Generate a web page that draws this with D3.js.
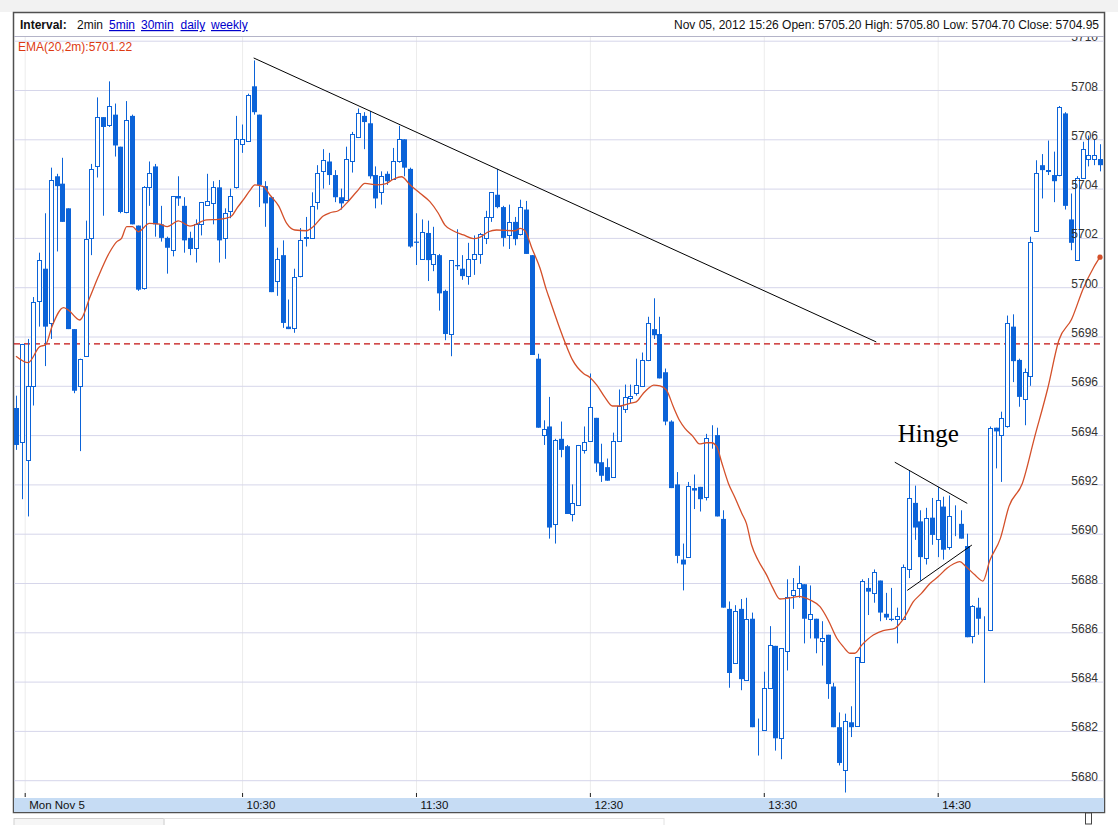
<!DOCTYPE html>
<html>
<head>
<meta charset="utf-8">
<script src="https://cdn.jsdelivr.net/npm/d3@7"></script>
<style>
  body { margin: 0; background: #fff; }
  svg { display: block; font-family: "Liberation Sans", Arial, sans-serif; }
</style>
</head>
<body>
<svg id="chart" width="1118" height="825"></svg>
<script>
// 2-minute bars, Mon Nov 5 2012, 09:12 .. 15:26
const startTime = new Date(2012, 10, 5, 9, 12);
const barMinutes = 2;

const opens = [
  5695.1, 5693.7, 5693.0, 5696.0, 5699.45, 5700.75, 5698.55, 5704.5, 5704.2, 5703.2,
  5698.3, 5696.0, 5697.2, 5702.0, 5704.9, 5706.9, 5706.6, 5707.0, 5705.7, 5703.05,
  5706.95, 5702.5, 5699.95, 5704.05, 5704.9, 5702.55, 5702.0, 5701.5, 5703.7, 5703.3,
  5702.0, 5701.6, 5702.55, 5703.35, 5703.4, 5704.05, 5702.0, 5703.1, 5704.05, 5705.8,
  5705.95, 5708.15, 5707.0, 5704.1, 5703.65, 5700.25, 5701.3, 5698.4, 5698.35, 5700.45,
  5702.0, 5702.0, 5703.45, 5704.7, 5705.1, 5704.55, 5703.65, 5703.55, 5705.1, 5706.1,
  5706.95, 5706.65, 5704.55, 5703.85, 5704.6, 5704.4, 5705.1, 5706.0, 5704.8, 5701.85,
  5701.15, 5702.2, 5700.95, 5701.3, 5699.85, 5698.1, 5700.9, 5700.75, 5700.45, 5701.15,
  5701.35, 5702.0, 5702.85, 5703.75, 5703.25, 5702.1, 5702.65, 5702.15, 5703.15, 5701.3,
  5697.1, 5694.0, 5694.35, 5690.4, 5693.85, 5693.55, 5690.8, 5691.15, 5693.4, 5693.75,
  5694.7, 5692.9, 5692.7, 5692.3, 5693.75, 5695.05, 5695.5, 5695.7, 5696.0, 5697.05,
  5698.3, 5698.1, 5696.55, 5694.55, 5692.0, 5688.95, 5689.05, 5691.85, 5691.9, 5691.5,
  5694.0, 5694.0, 5690.6, 5686.95, 5684.75, 5686.95, 5684.05, 5686.55, 5682.3, 5682.05,
  5683.75, 5685.45, 5681.7, 5685.25, 5687.5, 5687.8, 5687.95, 5686.55, 5686.55, 5685.65,
  5685.9, 5683.8, 5682.15, 5680.4, 5682.35, 5682.2, 5684.8, 5687.8, 5687.6, 5688.1,
  5686.75, 5686.55, 5686.55, 5686.55, 5688.55, 5691.25, 5690.5, 5689.0, 5690.65, 5689.8,
  5691.1, 5689.45, 5690.45, 5690.4, 5689.5, 5685.85, 5687.0, 5686.15, 5686.1, 5694.3,
  5694.0, 5694.35, 5698.4, 5697.05, 5695.45, 5696.4, 5702.3, 5704.95, 5704.7, 5704.55,
  5704.55, 5707.05, 5702.75, 5701.1, 5704.45, 5705.2, 5705.2, 5705.2
];
const highs = [
  5695.6, 5697.7, 5697.9, 5699.6, 5701.4, 5703.0, 5704.85, 5704.6, 5705.25, 5703.2,
  5698.3, 5697.1, 5702.7, 5705.0, 5707.7, 5706.9, 5708.35, 5707.45, 5705.7, 5707.55,
  5707.0, 5702.5, 5704.1, 5705.1, 5705.0, 5703.3, 5702.05, 5703.7, 5704.5, 5703.65,
  5702.25, 5702.75, 5703.45, 5704.6, 5704.3, 5704.35, 5703.2, 5704.0, 5706.95, 5706.6,
  5707.85, 5709.2, 5707.0, 5704.3, 5703.7, 5701.6, 5701.9, 5699.5, 5700.75, 5702.4,
  5702.85, 5703.85, 5704.95, 5705.6, 5705.45, 5704.75, 5704.0, 5705.7, 5706.3, 5707.25,
  5707.1, 5707.15, 5704.9, 5704.7, 5704.7, 5705.65, 5706.55, 5706.0, 5704.85, 5703.0,
  5702.75, 5702.7, 5702.45, 5701.35, 5699.9, 5701.1, 5702.35, 5701.3, 5701.8, 5702.1,
  5702.2, 5703.1, 5703.85, 5704.8, 5703.3, 5703.35, 5702.85, 5703.55, 5703.5, 5701.3,
  5697.3, 5694.6, 5695.55, 5693.85, 5694.55, 5693.6, 5692.0, 5693.6, 5694.35, 5696.5,
  5694.7, 5693.65, 5693.05, 5694.1, 5695.85, 5696.05, 5696.05, 5697.1, 5697.35, 5698.8,
  5699.55, 5698.8, 5696.7, 5694.6, 5692.5, 5689.6, 5692.1, 5692.4, 5691.9, 5694.05,
  5694.4, 5694.3, 5690.95, 5687.25, 5687.1, 5687.35, 5687.4, 5686.8, 5682.5, 5684.4,
  5686.25, 5685.45, 5685.35, 5688.15, 5688.2, 5688.7, 5687.95, 5687.9, 5686.55, 5686.45,
  5685.9, 5683.95, 5682.75, 5682.7, 5683.0, 5685.0, 5688.15, 5688.2, 5688.55, 5688.1,
  5687.6, 5687.8, 5687.0, 5688.75, 5692.55, 5691.95, 5690.95, 5691.05, 5691.45, 5691.9,
  5691.5, 5691.55, 5691.15, 5690.95, 5690.0, 5687.1, 5687.4, 5686.65, 5694.35, 5694.3,
  5694.95, 5698.85, 5698.9, 5697.1, 5696.7, 5702.05, 5705.15, 5705.4, 5705.95, 5705.5,
  5707.35, 5707.1, 5703.8, 5704.5, 5705.9, 5706.15, 5706.0, 5705.8
];
const lows = [
  5693.4, 5691.4, 5690.7, 5695.2, 5698.4, 5696.8, 5697.9, 5701.45, 5702.65, 5698.3,
  5695.7, 5693.35, 5697.2, 5701.3, 5704.45, 5702.9, 5706.5, 5705.3, 5703.0, 5703.0,
  5702.55, 5699.85, 5699.9, 5703.3, 5702.05, 5701.85, 5700.55, 5701.25, 5703.3, 5701.4,
  5701.3, 5701.0, 5702.1, 5703.3, 5702.55, 5701.0, 5701.15, 5702.8, 5704.0, 5705.45,
  5705.9, 5707.0, 5703.25, 5702.45, 5699.8, 5699.65, 5698.35, 5698.3, 5698.15, 5700.4,
  5701.65, 5702.0, 5703.15, 5704.0, 5704.15, 5703.45, 5703.15, 5703.5, 5704.65, 5706.05,
  5705.6, 5704.4, 5703.2, 5703.35, 5704.15, 5704.35, 5705.05, 5704.5, 5701.6, 5700.9,
  5701.15, 5700.25, 5700.65, 5699.05, 5697.85, 5697.2, 5700.7, 5700.3, 5700.1, 5700.5,
  5700.95, 5701.75, 5702.65, 5703.2, 5701.65, 5701.55, 5701.7, 5702.1, 5701.35, 5697.25,
  5694.3, 5693.6, 5689.8, 5689.6, 5693.1, 5690.8, 5690.5, 5691.15, 5693.25, 5693.75,
  5692.5, 5692.1, 5692.15, 5692.3, 5693.75, 5694.9, 5695.3, 5695.6, 5695.95, 5697.0,
  5697.9, 5696.3, 5694.4, 5691.85, 5688.8, 5687.7, 5689.05, 5691.0, 5690.9, 5691.35,
  5693.45, 5690.7, 5687.0, 5683.75, 5684.75, 5683.65, 5684.05, 5682.15, 5681.0, 5682.05,
  5683.75, 5681.2, 5680.85, 5684.45, 5686.95, 5687.4, 5685.55, 5685.75, 5685.15, 5684.65,
  5683.3, 5682.15, 5680.6, 5679.5, 5681.75, 5682.2, 5684.8, 5686.7, 5687.2, 5686.45,
  5686.5, 5686.45, 5685.55, 5686.5, 5688.2, 5689.75, 5688.1, 5688.75, 5689.55, 5689.05,
  5688.95, 5689.35, 5689.9, 5689.8, 5685.8, 5685.55, 5685.9, 5683.95, 5686.05, 5692.65,
  5692.1, 5694.3, 5696.15, 5695.15, 5694.4, 5696.0, 5702.3, 5703.6, 5704.55, 5703.45,
  5704.5, 5703.15, 5701.5, 5701.1, 5704.4, 5704.9, 5704.95, 5704.7
];
const closes = [
  5693.6, 5697.7, 5696.0, 5699.4, 5701.1, 5698.4, 5704.35, 5704.1, 5702.65, 5698.3,
  5695.8, 5697.1, 5701.95, 5704.8, 5706.9, 5706.5, 5707.35, 5705.75, 5703.05, 5706.8,
  5702.55, 5699.9, 5704.05, 5704.65, 5702.55, 5702.0, 5701.6, 5703.7, 5703.6, 5701.9,
  5701.55, 5702.55, 5703.45, 5703.5, 5704.05, 5701.9, 5703.0, 5703.7, 5706.0, 5706.0,
  5707.8, 5707.1, 5704.15, 5703.4, 5699.8, 5701.15, 5698.55, 5698.3, 5700.4, 5701.9,
  5702.05, 5703.3, 5704.65, 5705.15, 5704.55, 5703.65, 5703.4, 5705.2, 5706.2, 5707.05,
  5706.7, 5704.5, 5703.6, 5704.5, 5704.3, 5705.1, 5706.0, 5704.85, 5701.65, 5701.8,
  5702.25, 5701.1, 5701.35, 5699.75, 5698.1, 5701.1, 5700.85, 5700.45, 5701.15, 5701.35,
  5702.15, 5702.85, 5703.85, 5703.25, 5702.0, 5702.65, 5701.95, 5703.25, 5701.35, 5697.25,
  5694.3, 5694.25, 5690.25, 5693.8, 5693.4, 5690.8, 5691.25, 5693.6, 5693.7, 5695.15,
  5692.85, 5692.35, 5692.15, 5693.75, 5695.2, 5695.55, 5695.6, 5696.05, 5697.05, 5698.55,
  5698.05, 5696.3, 5694.55, 5691.85, 5689.1, 5688.75, 5691.95, 5691.75, 5691.4, 5693.9,
  5694.0, 5690.7, 5687.0, 5684.35, 5686.85, 5684.1, 5686.55, 5682.15, 5682.3, 5683.75,
  5685.5, 5681.7, 5685.35, 5687.45, 5687.7, 5688.0, 5686.55, 5686.75, 5685.75, 5685.75,
  5683.9, 5682.15, 5680.7, 5682.4, 5682.15, 5685.0, 5688.1, 5687.65, 5688.45, 5686.8,
  5686.6, 5686.5, 5686.65, 5688.65, 5691.45, 5690.25, 5689.05, 5690.65, 5689.95, 5691.35,
  5689.35, 5690.7, 5690.45, 5689.8, 5685.8, 5687.05, 5686.55, 5686.15, 5694.3, 5694.15,
  5694.7, 5698.55, 5697.0, 5695.55, 5696.55, 5701.85, 5704.65, 5704.75, 5704.75, 5704.3,
  5707.3, 5703.3, 5701.8, 5704.45, 5705.6, 5705.35, 5705.35, 5704.95
];

// EMA(20): bar position -> value
const emaBar = [
  0, 2.1, 4.1, 5.1, 6.2, 8.2, 9.0, 11.0, 12.8, 14.2, 16.2, 17.4, 18.2, 19.1, 20.1, 21.1,
  23.0, 24.8, 26.1, 28.0, 30.0, 32.9, 34.9, 36.1, 37.2, 38.1, 39.2, 40.4, 41.2, 42.7,
  43.8, 45.3, 46.7, 48.1, 50.1, 51.3, 53.0, 54.2, 55.6, 57.0, 58.8, 60.2, 62.2, 63.7,
  65.1, 66.5, 68.0, 69.7, 71.4, 72.8, 74.0, 75.4, 77.2, 78.9, 80.0, 81.5, 82.9, 86.1,
  87.0, 87.8, 89.0, 90.4, 91.5, 92.1, 93.5, 95.0, 96.0, 97.9, 99.0, 100.2, 101.6, 102.9,
  104.2, 105.9, 107.0, 108.2, 109.1, 110.0, 111.1, 112.2, 113.4, 114.5, 115.4, 116.8,
  117.9, 119.1, 120.0, 120.9, 121.7, 122.9, 124.0, 125.2, 126.0, 126.9, 128.0, 129.5,
  130.6, 131.8, 132.9, 134.1, 135.0, 137.0, 138.7, 140.1, 141.6, 142.7, 143.9, 144.7,
  145.9, 147.9, 149.6, 151.6, 152.5, 153.4, 154.8, 156.2, 157.7, 159.1, 160.6, 161.7,
  162.8, 163.9, 165.4, 166.8, 168.0, 169.8, 171.3, 173.6, 175.7, 178.0, 179.9, 182.1,
  184.1, 185.9, 187
];
const emaVal = [
  5697.2, 5696.94, 5697.59, 5697.66, 5698.4, 5699.17, 5699.08, 5698.67, 5699.62, 5700.43,
  5701.44, 5701.85, 5701.98, 5702.46, 5702.46, 5702.25, 5702.59, 5702.56, 5702.46, 5702.69,
  5702.48, 5702.73, 5702.75, 5702.79, 5702.89, 5703.2, 5703.54, 5703.94, 5704.15, 5704.08,
  5703.74, 5703.3, 5702.59, 5702.32, 5702.29, 5702.46, 5702.89, 5703.02, 5703.1, 5703.4,
  5703.88, 5704.21, 5704.15, 5704.19, 5704.38, 5704.48, 5704.15, 5703.81, 5703.47, 5703.02,
  5702.52, 5702.29, 5702.12, 5701.97, 5702.02, 5702.25, 5702.32, 5702.29, 5702.39, 5702.29,
  5701.58, 5700.77, 5699.89, 5699.48, 5698.53, 5697.59, 5697.05, 5696.5, 5696.34, 5696.03,
  5695.53, 5695.18, 5695.18, 5695.29, 5695.35, 5695.69, 5695.9, 5696.03, 5696.0, 5695.83,
  5695.15, 5694.58, 5694.27, 5693.94, 5693.64, 5693.69, 5693.69, 5693.53, 5692.92, 5692.04,
  5691.48, 5690.83, 5690.42, 5689.54, 5688.93, 5688.32, 5687.78, 5687.35, 5687.38, 5687.42,
  5687.46, 5687.31, 5687.04, 5686.5, 5685.76, 5685.42, 5685.15, 5685.15, 5685.48, 5685.89,
  5686.07, 5686.16, 5686.36, 5686.66, 5687.24, 5687.58, 5687.99, 5688.26, 5688.6, 5688.77,
  5688.87, 5688.66, 5688.33, 5688.08, 5688.92, 5689.8, 5691.11, 5692.04, 5693.9, 5695.91,
  5697.85, 5698.7, 5699.94, 5700.8, 5701.22
];

const yTicks = d3.range(5680, 5711, 2);
const xTickTimes = [[9, 15], [10, 30], [11, 30], [12, 30], [13, 30], [14, 30]];
const xTickLabels = ["Mon Nov 5", "10:30", "11:30", "12:30", "13:30", "14:30"];
const levelLine = 5697.7;

// hand-drawn annotation lines, [bar, price]
const trendLines = [
  [[41, 5709.3], [148.4, 5697.78]],
  [[151.6, 5692.9], [164.1, 5691.23]],
  [[153.75, 5687.7], [164.9, 5689.54]]
];
const hingeNote = { bar: 152.1, price: 5693.73, text: "Hinge" };

const blue = "#0b63d8";
const emaColor = "#d4502a";

const barTime = b => new Date(startTime.getTime() + b * barMinutes * 60000);
const bars = opens.map((o, i) => ({
  t: barTime(i), o, h: highs[i], l: lows[i], c: closes[i]
}));

const plot = { left: 14, right: 1104, top: 37, bottom: 797 };

const svg = d3.select("#chart");

const x = d3.scaleTime()
  .domain([barTime(0), barTime(bars.length - 1)])
  .range([16, 1100]);

const y = d3.scaleLinear()
  .domain([5680, 5710])
  .range([780.2, 40.7]);

// page chrome
svg.append("rect").attr("x", 0).attr("y", 0).attr("width", 1118).attr("height", 12).attr("fill", "#f2f2f2");
svg.append("rect").attr("x", 13.5).attr("y", 12.5).attr("width", 1091).attr("height", 800)
  .attr("fill", "#fff").attr("stroke", "#505050").attr("stroke-width", 1.5);

svg.append("line")
  .attr("x1", plot.left).attr("x2", plot.right).attr("y1", 36.5).attr("y2", 36.5)
  .attr("stroke", "#b4b4c8");

// header
const header = svg.append("g").attr("font-size", "12px");
header.append("text").attr("x", 20).attr("y", 29).attr("font-weight", "bold").attr("fill", "#111").text("Interval:");
header.append("text").attr("x", 77).attr("y", 29).attr("fill", "#111").text("2min");
[["5min", 109], ["30min", 141], ["daily", 180.5], ["weekly", 211]].forEach(([t, px]) => {
  header.append("text").attr("x", px).attr("y", 29).attr("fill", "#0000cc")
    .attr("text-decoration", "underline").text(t);
});
header.append("text").attr("x", 1099).attr("y", 29).attr("text-anchor", "end").attr("fill", "#111")
  .text("Nov 05, 2012 15:26 Open: 5705.20 High: 5705.80 Low: 5704.70 Close: 5704.95");

// clipped plot area
svg.append("defs").append("clipPath").attr("id", "plotClip")
  .append("rect")
  .attr("x", plot.left).attr("y", plot.top)
  .attr("width", plot.right - plot.left).attr("height", plot.bottom - plot.top);

const g = svg.append("g").attr("clip-path", "url(#plotClip)");

const tickDates = xTickTimes.map(([hh, mm]) => new Date(2012, 10, 5, hh, mm));

// vertical grid
g.append("g")
  .attr("transform", `translate(0,${plot.bottom})`)
  .call(d3.axisBottom(x).tickValues(tickDates).tickSize(-(plot.bottom - plot.top)).tickFormat(""))
  .call(a => a.select(".domain").remove())
  .selectAll("line").attr("stroke", "#ececec");

// horizontal grid
g.append("g")
  .attr("transform", `translate(${plot.left},0)`)
  .call(d3.axisLeft(y).tickValues(yTicks).tickSize(-(plot.right - plot.left)).tickFormat(""))
  .call(a => a.select(".domain").remove())
  .selectAll("line").attr("stroke", "#d6d6ea");

// level line
g.append("line")
  .attr("x1", plot.left).attr("x2", plot.right)
  .attr("y1", y(levelLine)).attr("y2", y(levelLine))
  .attr("stroke", "#c41010").attr("stroke-width", 1.4)
  .attr("stroke-dasharray", "6,4");

// candles
const candle = g.append("g").selectAll("g")
  .data(bars)
  .join("g");

const cx = d => Math.round(x(d.t));

candle.append("line")
  .attr("x1", d => cx(d) + 0.5).attr("x2", d => cx(d) + 0.5)
  .attr("y1", d => y(d.h)).attr("y2", d => y(d.l))
  .attr("stroke", blue).attr("stroke-width", 1);

candle.filter(d => d.c < d.o).append("rect")
  .attr("x", d => cx(d) - 2)
  .attr("width", 5)
  .attr("y", d => y(d.o))
  .attr("height", d => Math.max(1, y(d.c) - y(d.o)))
  .attr("fill", blue);

candle.filter(d => d.c >= d.o).append("rect")
  .attr("x", d => cx(d) - 1.5)
  .attr("width", 4)
  .attr("y", d => Math.round(y(d.c)) + 0.5)
  .attr("height", d => Math.max(0, Math.round(y(d.o)) - Math.round(y(d.c))))
  .attr("fill", "#fff")
  .attr("stroke", blue).attr("stroke-width", 1);

// EMA
const ema = emaBar.map((b, i) => ({ t: barTime(b), v: emaVal[i] }));
g.append("path")
  .datum(ema)
  .attr("fill", "none")
  .attr("stroke", emaColor)
  .attr("stroke-width", 1.3)
  .attr("d", d3.line().x(d => x(d.t)).y(d => y(d.v)).curve(d3.curveMonotoneX));
g.append("circle")
  .attr("cx", x(ema[ema.length - 1].t)).attr("cy", y(ema[ema.length - 1].v))
  .attr("r", 2.6).attr("fill", emaColor);

// annotations
trendLines.forEach(([a, b]) => {
  g.append("line")
    .attr("x1", x(barTime(a[0]))).attr("y1", y(a[1]))
    .attr("x2", x(barTime(b[0]))).attr("y2", y(b[1]))
    .attr("stroke", "#000").attr("stroke-width", 1);
});
g.append("text")
  .attr("x", x(barTime(hingeNote.bar)))
  .attr("y", y(hingeNote.price))
  .attr("font-family", "'Liberation Serif', 'Times New Roman', serif")
  .attr("font-size", "25px")
  .attr("fill", "#000")
  .text(hingeNote.text);

// price labels on the right, drawn over the candles
g.append("g")
  .attr("transform", "translate(1098,0)")
  .call(d3.axisLeft(y).tickValues(yTicks).tickSize(0).tickPadding(0).tickFormat(d3.format("d")))
  .call(a => a.select(".domain").remove())
  .selectAll("text")
  .attr("dy", 0)
  .attr("fill", "#333")
  .style("font-size", "12px")
  .style("font-family", "'Liberation Sans', Arial, sans-serif");

g.append("text")
  .attr("x", 18).attr("y", 51)
  .attr("font-size", "12px")
  .attr("fill", "#dd3a12")
  .text("EMA(20,2m):" + emaVal[emaVal.length - 1].toFixed(2));

// time axis band
svg.append("rect")
  .attr("x", plot.left).attr("y", plot.bottom + 1)
  .attr("width", plot.right - plot.left).attr("height", 14)
  .attr("fill", "#c6dcf4");

svg.append("g")
  .attr("transform", `translate(0,${plot.bottom})`)
  .call(d3.axisBottom(x).tickValues(tickDates).tickSizeInner(-4).tickSizeOuter(0).tickPadding(4)
    .tickFormat((d, i) => xTickLabels[i]))
  .call(a => a.select(".domain").remove())
  .call(a => a.selectAll("line").attr("stroke", "#222"))
  .selectAll("text")
  .attr("text-anchor", "start")
  .attr("dx", 4)
  .attr("fill", "#111")
  .style("font-size", "11.5px")
  .style("font-family", "'Liberation Sans', Arial, sans-serif");

// bits of the page below the chart
svg.append("rect").attr("x", 14).attr("y", 818.5).attr("width", 150).attr("height", 8)
  .attr("fill", "#f6f6f6").attr("stroke", "#d0d0d0");
svg.append("rect").attr("x", 164).attr("y", 818.5).attr("width", 500).attr("height", 8)
  .attr("fill", "none").attr("stroke", "#e2e2e2");
svg.append("rect").attr("x", 1085.5).attr("y", 813).attr("width", 6).attr("height", 11)
  .attr("fill", "#fff").attr("stroke", "#444");
</script>
</body>
</html>
